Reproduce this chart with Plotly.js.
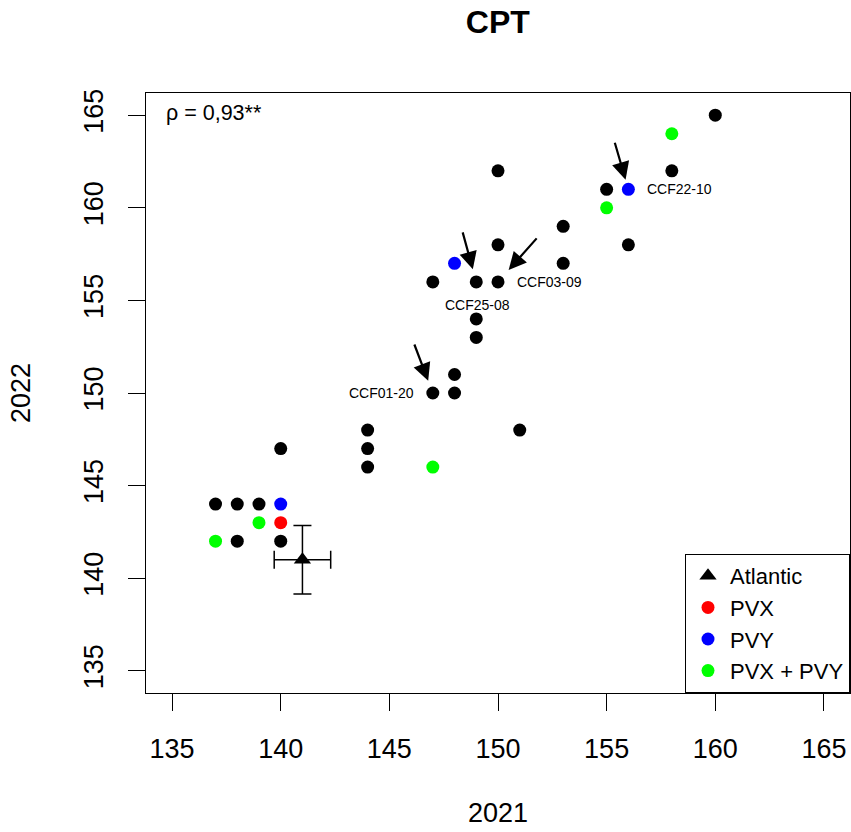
<!DOCTYPE html>
<html>
<head>
<meta charset="utf-8">
<script src="https://cdn.plot.ly/plotly-3.0.1.min.js"></script>
<style>html,body{margin:0;padding:0;background:#fff;}#chart{width:851px;height:832px;}</style>
</head>
<body>
<div id="chart"></div>
<script>
// ---- data ----
const blackX = [160,158,155,156,153,153,150,150,150,149,147,149,149,148,148,147,151,144,144,144,140,137,138,139,138,140];
const blackY = [165,162,161,158,159,157,162,158,156,156,156,154,153,151,150,150,148,148,147,146,147,144,144,144,142,142];
const pvxX = [140];
const pvxY = [143];
const pvyX = [148,156,140];
const pvyY = [157,161,144];
const bothX = [158,155,147,139,137];
const bothY = [164,160,146,143,142];
const atlanticX = [141];
const atlanticY = [141];
const atlanticErrX = [1.3];
const atlanticErrY = [1.85];
const labelNames = ["CCF22-10","CCF03-09","CCF25-08","CCF01-20"];
const labelX = [156,150,149,147];
const labelY = [161,156,156,150];
const tickVals = [135,140,145,150,155,160,165];
const rhoText = "\u03c1 = 0,93**";

// ---- styles ----
const FONT = "Liberation Sans, Arial, sans-serif";
const labelPlacement = [
  {xanchor:"left", xshift:17, yshift:0, ax:-14, ay:-48, standoff:10},
  {xanchor:"left", xshift:17, yshift:0, ax:40, ay:-45, standoff:16},
  {xanchor:"center", xshift:1, yshift:-23, ax:-14, ay:-51, standoff:13},
  {xanchor:"right", xshift:-17, yshift:0, ax:-19, ay:-50, standoff:13}
];

const mk = (c) => ({color:c, size:13, symbol:"circle", line:{width:0}});

const traces = [
  {type:"scatter", mode:"markers", x:blackX, y:blackY, marker:mk("#000000"), showlegend:false, name:"other", hoverinfo:"x+y"},
  {type:"scatter", mode:"markers", x:atlanticX, y:atlanticY, name:"Atlantic",
   marker:{color:"#000000", size:15, symbol:"triangle-up"},
   error_x:{type:"data", array:atlanticErrX, visible:true, color:"#000000", thickness:1.5, width:9},
   error_y:{type:"data", array:atlanticErrY, visible:true, color:"#000000", thickness:1.5, width:9}},
  {type:"scatter", mode:"markers", x:pvxX, y:pvxY, name:"PVX", marker:mk("#FF0000")},
  {type:"scatter", mode:"markers", x:pvyX, y:pvyY, name:"PVY", marker:mk("#0000FF")},
  {type:"scatter", mode:"markers", x:bothX, y:bothY, name:"PVX + PVY", marker:mk("#00FF00")}
];

const annotations = [];
labelNames.forEach((n,i) => {
  const p = labelPlacement[i];
  annotations.push({x:labelX[i], y:labelY[i], xref:"x", yref:"y", text:"", showarrow:true,
    ax:p.ax, ay:p.ay, axref:"pixel", ayref:"pixel", arrowhead:2, arrowsize:1.6, arrowwidth:2.2,
    arrowcolor:"#000000", standoff:p.standoff});
  annotations.push({x:labelX[i], y:labelY[i], xref:"x", yref:"y", text:n, showarrow:false,
    xanchor:p.xanchor, yanchor:"middle", xshift:p.xshift, yshift:p.yshift,
    font:{family:FONT, size:14, color:"#000000"}});
});
annotations.push({xref:"paper", yref:"paper", x:0.026, y:0.967, xanchor:"left", yanchor:"middle",
  text:rhoText, showarrow:false, font:{family:FONT, size:21.5, color:"#000000"}});

const axisCommon = {
  range:[133.8,166.2], tickvals:tickVals, ticks:"outside", ticklen:17, tickwidth:1, tickcolor:"#000000",
  showline:true, mirror:true, linecolor:"#000000", linewidth:1.2, showgrid:false, zeroline:false,
  tickfont:{family:FONT, size:27, color:"#000000"}
};

const layout = {
  width:851, height:832,
  margin:{l:146, r:1, t:93, b:139},
  paper_bgcolor:"#ffffff", plot_bgcolor:"#ffffff",
  font:{family:FONT, color:"#000000"},
  title:{text:"<b>CPT</b>", x:0.585, xanchor:"center", y:0.974, yanchor:"middle",
    font:{family:FONT, size:32, color:"#000000"}},
  xaxis:Object.assign({}, axisCommon, {title:{text:"2021", font:{family:FONT, size:27}, standoff:40}, ticklabelstandoff:14}),
  yaxis:Object.assign({}, axisCommon, {tickangle:-90, title:{text:"2022", font:{family:FONT, size:27}, standoff:40}, ticklabelstandoff:14}),
  legend:{x:1, xanchor:"right", y:0, yanchor:"bottom", bgcolor:"#ffffff", bordercolor:"#000000", borderwidth:1,
    font:{family:FONT, size:22, color:"#000000"}, traceorder:"normal", itemwidth:34},
  annotations:annotations,
  showlegend:true
};

Plotly.newPlot("chart", traces, layout, {displayModeBar:false, staticPlot:true});
</script>
</body>
</html>
